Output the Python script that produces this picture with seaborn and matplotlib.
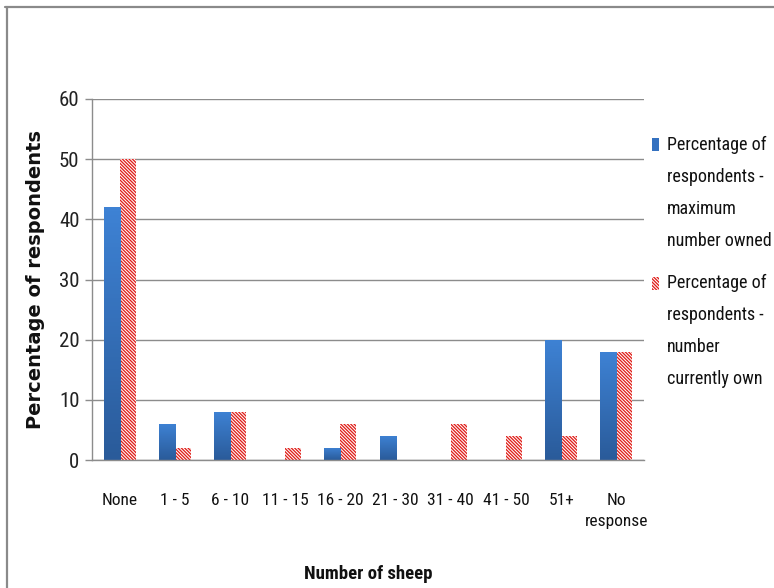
import numpy as np
import pandas as pd
import matplotlib
matplotlib.use("Agg")
import matplotlib.pyplot as plt
from matplotlib import font_manager
from matplotlib.patches import Rectangle
from matplotlib.lines import Line2D
import seaborn as sns

categories = ["None", "1 - 5", "6 - 10", "11 - 15", "16 - 20", "21 - 30",
              "31 - 40", "41 - 50", "51+", "No\nresponse"]
max_owned = [42, 6, 8, 0, 2, 4, 0, 0, 20, 18]
currently_own = [50, 2, 8, 2, 6, 0, 6, 4, 4, 18]
series_names = ["Percentage of\nrespondents -\nmaximum\nnumber owned",
                "Percentage of\nrespondents -\nnumber\ncurrently own"]
y_ticks = [0, 10, 20, 30, 40, 50, 60]

df = pd.DataFrame({
    "category": categories * 2,
    "value": max_owned + currently_own,
    "series": [series_names[0]] * len(categories) + [series_names[1]] * len(categories),
})

# pick a narrow sans face if one is installed
names = {f.name for f in font_manager.fontManager.ttflist}
family = next((c for c in ["Liberation Sans Narrow", "Roboto Condensed", "Open Sans Condensed"]
               if c in names), "Roboto")

sns.set_theme(style="white")
plt.rcParams["font.family"] = [family, "DejaVu Sans"]
plt.rcParams["hatch.linewidth"] = 0.95

BLUE = "#3471c0"
RED = "#e0201b"
GRID = "#8c8c8c"
TEXT = "#111111"
HATCH = "\\" * 10

W, H = 774, 588
fig = plt.figure(figsize=(W / 100, H / 100), dpi=100)
ax = fig.add_axes([92 / W, 1 - 460 / H, 552 / W, 361 / H])

sns.barplot(data=df, x="category", y="value", hue="series", order=categories,
            hue_order=series_names, palette=[BLUE, "white"], width=0.58,
            saturation=1, ax=ax, legend=False, errorbar=None)

n = len(categories)
blue_patches = ax.patches[:n]
red_patches = ax.patches[n:2 * n]

# vertical gradient on the solid bars
grad = np.linspace(0, 1, 64).reshape(-1, 1)
cmap = matplotlib.colors.LinearSegmentedColormap.from_list("bluegrad", ["#2a5b9a", "#3e82d4"])
for p in blue_patches:
    x0, y0 = p.get_x(), p.get_y()
    w, h = p.get_width(), p.get_height()
    p.set_edgecolor("none")
    if h <= 0:
        continue
    im = ax.imshow(grad, extent=(x0, x0 + w, y0, y0 + h), origin="lower",
                   cmap=cmap, aspect="auto", zorder=p.get_zorder() + 0.1)
    im.set_clip_path(p)

for p in red_patches:
    p.set_facecolor("white")
    p.set_edgecolor(RED)
    p.set_linewidth(0)
    p.set_hatch(HATCH)

ax.set_xlim(-0.5, n - 0.5)
ax.set_ylim(0, 60)
ax.set_yticks(y_ticks)
ax.set_yticklabels([str(t) for t in y_ticks], fontsize=15, color="#222222")
ax.yaxis.grid(True, color=GRID, linewidth=1)
ax.set_axisbelow(True)
for s in ["top", "right"]:
    ax.spines[s].set_visible(False)
for s in ["left", "bottom"]:
    ax.spines[s].set_color(GRID)
    ax.spines[s].set_linewidth(1)
ax.tick_params(axis="y", which="major", length=5, width=1, color=GRID, pad=4, left=True)
ax.tick_params(axis="x", length=0, pad=24, labelsize=12.5, labelcolor=TEXT)
for lbl in ax.get_xticklabels():
    lbl.set_linespacing(1.45)

ax.set_xlabel("Number of sheep", fontsize=13.5, fontweight="bold", labelpad=26, color=TEXT)
ax.set_ylabel("Percentage of respondents", fontsize=14, fontweight="bold", color=TEXT,
              family=["DejaVu Sans"])
ax.yaxis.label.set_va("center")
ax.yaxis.set_label_coords((36 - 92) / 552, 0.5)

# legend: swatch beside the first line of each wrapped label
legend_rows = [
    (series_names[0], 193, 138, dict(facecolor=BLUE, edgecolor="none")),
    (series_names[1], 331, 277, dict(facecolor="white", edgecolor=RED, hatch=HATCH, linewidth=0)),
]
for label, yc, ytop, style in legend_rows:
    fig.text(667 / W, 1 - yc / H, label, fontsize=13, color=TEXT, ha="left", va="center",
             linespacing=2.02)
    fig.add_artist(Rectangle((652 / W, 1 - (ytop + 13) / H), 7 / W, 13 / H,
                             transform=fig.transFigure, **style))

# partial outer frame
fig.add_artist(Line2D([5 / W, 1.0], [1 - 7 / H, 1 - 7 / H], transform=fig.transFigure,
                      color="#8a8a8a", linewidth=1.6))
fig.add_artist(Line2D([7 / W, 7 / W], [0, 1 - 7 / H], transform=fig.transFigure,
                      color="#8a8a8a", linewidth=1.6))

fig.savefig("out.png", dpi=100)
